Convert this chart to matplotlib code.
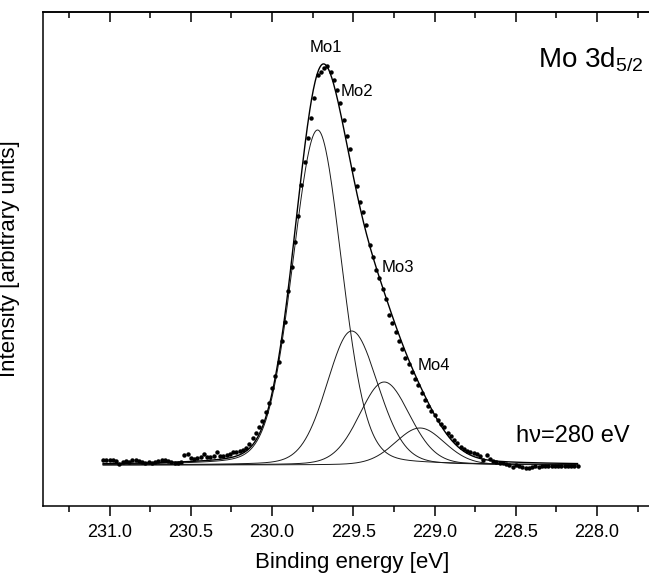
import numpy as np
import matplotlib
matplotlib.use("Agg")
import matplotlib.pyplot as plt
from matplotlib.ticker import MultipleLocator, FormatStrFormatter

plt.rcParams['font.family'] = ['Liberation Sans', 'DejaVu Sans']
plt.rcParams['mathtext.fontset'] = 'custom'
plt.rcParams['mathtext.rm'] = 'Liberation Sans'
plt.rcParams['mathtext.it'] = 'Liberation Sans'

# measured points (binding energy in eV, intensity in arb. units, background removed)
energy = [
    231.04, 231.02, 231.00, 230.98, 230.96, 230.94, 230.92, 230.90, 230.88, 230.86,
    230.84, 230.82, 230.80, 230.78, 230.76, 230.74, 230.72, 230.70, 230.68, 230.66,
    230.64, 230.62, 230.60, 230.58, 230.56, 230.54, 230.52, 230.50, 230.48, 230.46,
    230.44, 230.42, 230.40, 230.38, 230.36, 230.34, 230.32, 230.30, 230.28, 230.26,
    230.24, 230.22, 230.20, 230.18, 230.16, 230.14, 230.12, 230.10, 230.08, 230.06,
    230.04, 230.02, 230.00, 229.98, 229.96, 229.94, 229.92, 229.90, 229.88, 229.86,
    229.84, 229.82, 229.80, 229.78, 229.76, 229.74, 229.72, 229.70, 229.68, 229.66,
    229.64, 229.62, 229.60, 229.58, 229.56, 229.54, 229.52, 229.50, 229.48, 229.46,
    229.44, 229.42, 229.40, 229.38, 229.36, 229.34, 229.32, 229.30, 229.28, 229.26,
    229.24, 229.22, 229.20, 229.18, 229.16, 229.14, 229.12, 229.10, 229.08, 229.06,
    229.04, 229.02, 229.00, 228.98, 228.96, 228.94, 228.92, 228.90, 228.88, 228.86,
    228.84, 228.82, 228.80, 228.78, 228.76, 228.74, 228.72, 228.70, 228.68, 228.66,
    228.64, 228.62, 228.60, 228.58, 228.56, 228.54, 228.52, 228.50, 228.48, 228.46,
    228.44, 228.42, 228.40, 228.38, 228.36, 228.34, 228.32, 228.30, 228.28, 228.26,
    228.24, 228.22, 228.20, 228.18, 228.16, 228.14, 228.12,
]
intensity = [
    5, 5, 5, 5, 4, 1, 3, 4, 3, 5,
    5, 4, 3, 2, 3, 2, 3, 4, 5, 5,
    4, 3, 2, 2, 3, 10, 11, 7, 6, 7,
    8, 11, 8, 8, 9, 13, 9, 9, 10, 11,
    13, 13, 14, 15, 17, 21, 27, 32, 38, 44,
    53, 62, 77, 89, 103, 124, 143, 174, 198, 223,
    249, 280, 303, 327, 347, 367, 390, 393, 397, 399,
    393, 385, 375, 362, 345, 329, 316, 296, 279, 263,
    253, 240, 220, 208, 195, 187, 176, 166, 150, 142,
    133, 124, 116, 107, 101, 93, 86, 80, 72, 65,
    59, 54, 50, 45, 41, 38, 32, 29, 25, 22,
    18, 16, 14, 13, 12, 11, 9, 5, 10, 6,
    4, 3, 2, 2, 1, 0, -2, 0, -1, -2,
    -3, -3, -2, -1, -2, -1, -1, -1, -1, -1,
    -1, -1, -1, -1, -1, -1, -1,
]

# fitted components: position, height, half widths (high-BE side, low-BE side), Lorentz fraction
peak_names = ['Mo1', 'Mo2', 'Mo3', 'Mo4']
peak_pos = [229.72, 229.51, 229.31, 229.09]
peak_height = [335, 134, 83, 37]
hwhm_high = [0.18, 0.18, 0.18, 0.18]
hwhm_low = [0.175, 0.19, 0.185, 0.18]
lorentz_frac = [0.15, 0.15, 0.15, 0.15]


def asym_pv(e, e0, h, wh, wl, eta):
    # asymmetric pseudo-Voigt, wider on the high binding energy side
    w = np.where(e > e0, wh, wl)
    r2 = ((e - e0) / w) ** 2
    return h * ((1 - eta) * np.exp(-np.log(2) * r2) + eta / (1 + r2))


e_fit = np.linspace(min(energy), max(energy), 800)
comps = [asym_pv(e_fit, peak_pos[k], peak_height[k], hwhm_high[k], hwhm_low[k], lorentz_frac[k])
         for k in range(len(peak_pos))]
envelope = np.sum(comps, axis=0)

fig = plt.figure(figsize=(6.49, 5.74), dpi=100)
# axes runs past the right edge of the figure, as in the original
ax = fig.add_axes([43 / 649, 68 / 574, 619 / 649, 494 / 574])

for c in comps:
    ax.plot(e_fit, c, color='#1a1a1a', lw=0.7, zorder=2)
ax.plot(e_fit, envelope, color='black', lw=1.0, zorder=3)
ax.plot(energy, intensity, 'o', color='black', ms=3.2, mec='none', zorder=4)

ax.set_xlim(231.41, 227.6)
ax.set_ylim(-41, 453)

ax.xaxis.set_major_locator(MultipleLocator(0.5))
ax.xaxis.set_minor_locator(MultipleLocator(0.25))
ax.xaxis.set_major_formatter(FormatStrFormatter('%.1f'))
ax.tick_params(axis='x', which='major', direction='out', length=7, width=1.1,
               labelsize=13, pad=6, top=False)
ax.tick_params(axis='x', which='minor', direction='out', length=4, width=1.1, top=False)
ax.set_yticks([])

top = ax.secondary_xaxis('top')
top.xaxis.set_major_locator(MultipleLocator(0.5))
top.xaxis.set_minor_locator(MultipleLocator(0.25))
top.tick_params(which='major', direction='in', length=7, width=1.1, labeltop=False)
top.tick_params(which='minor', direction='in', length=4, width=1.1)
top.spines['top'].set_linewidth(1.1)

for s in ax.spines.values():
    s.set_linewidth(1.1)

ax.set_xlabel('Binding energy [eV]', fontsize=16, labelpad=8)
ax.set_ylabel('Intensity [arbitrary units]', fontsize=16)
ax.yaxis.set_label_coords(-0.037, 0.5)

# peak labels
ax.text(229.67, 418, 'Mo1', fontsize=12, ha='center', va='center')
ax.text(229.577, 373, 'Mo2', fontsize=12, ha='left', va='center')
ax.text(229.325, 197, 'Mo3', fontsize=12, ha='left', va='center')
ax.text(229.104, 99, 'Mo4', fontsize=12, ha='left', va='center')

ax.text(228.366, 405, r'Mo 3d$_{5/2}$', fontsize=20, ha='left', va='center')
ax.text(228.501, 29, 'h\u03bd=280 eV', fontsize=17, ha='left', va='center')

fig.savefig('out.png', dpi=100)
